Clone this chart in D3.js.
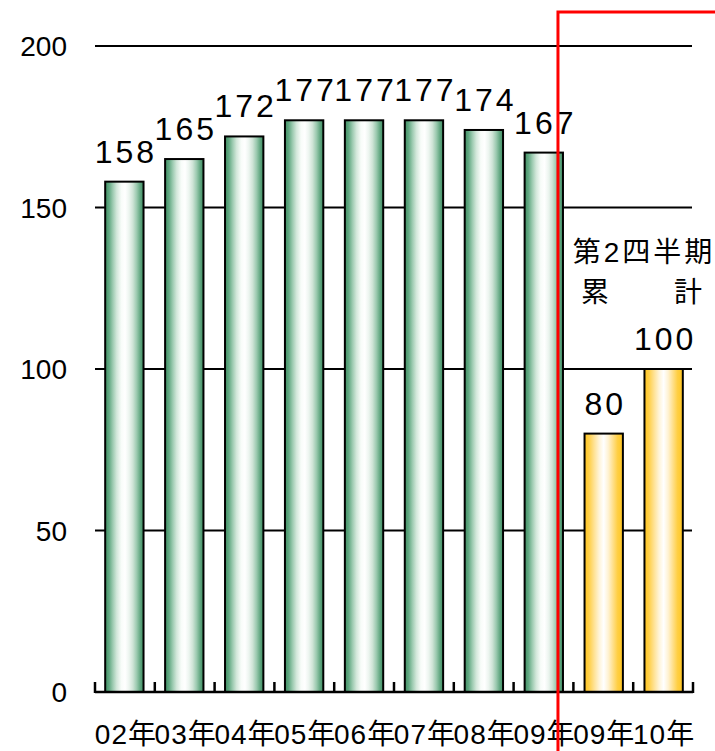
<!DOCTYPE html>
<html><head><meta charset="utf-8">
<script src="https://cdn.jsdelivr.net/npm/d3@7"></script>
<style>
html,body{margin:0;padding:0;background:#fff;}
svg{display:block;font-family:"Liberation Sans","Noto Sans CJK JP",sans-serif;}
</style></head>
<body><svg id="chart" width="715" height="751"></svg>
<script>
const categories = ["02年","03年","04年","05年","06年","07年","08年","09年","09年","10年"];
const values = [158,165,172,177,177,177,174,167,80,100];
const seriesType = ["annual","annual","annual","annual","annual","annual","annual","annual","q2","q2"];
const yTicks = [0,50,100,150,200];
const noteLines = ["第2四半期","累　　計"];

const svg = d3.select("#chart");
const pLeft = 95, pRight = 693, pTop = 46, pBottom = 692;

const x = d3.scaleBand().domain(d3.range(categories.length)).range([pLeft, pRight]).paddingInner(0.36).paddingOuter(0.17);
const xb = d3.scaleBand().domain(d3.range(categories.length)).range([pLeft, pRight]);
const y = d3.scaleLinear().domain([0, 200]).range([pBottom, pTop]);

const defs = svg.append("defs");
function grad(id, stops){
  const g = defs.append("linearGradient").attr("id", id).attr("x1","0").attr("x2","1").attr("y1","0").attr("y2","0");
  stops.forEach(s => g.append("stop").attr("offset", s[0]).attr("stop-color", s[1]));
}
grad("gGreen", [[0,"#3f8f63"],[0.1,"#62a882"],[0.2,"#9dcbb1"],[0.3,"#d2e7da"],[0.42,"#f8fcf9"],[0.52,"#ffffff"],[0.62,"#edf5f0"],[0.72,"#cfe4d7"],[0.82,"#9ccab0"],[0.92,"#5fa57f"],[1,"#3f8f63"]]);
grad("gYellow", [[0,"#ffc51f"],[0.12,"#ffd04a"],[0.25,"#ffe294"],[0.38,"#fff4d8"],[0.5,"#ffffff"],[0.62,"#fff2d2"],[0.74,"#ffe08c"],[0.86,"#ffcf45"],[1,"#ffc51f"]]);

// gridlines
svg.append("g").selectAll("line").data(yTicks.filter(d => d > 0)).join("line")
  .attr("x1", pLeft).attr("x2", pRight - 1)
  .attr("y1", d => y(d)).attr("y2", d => y(d))
  .attr("stroke", "#000").attr("stroke-width", 2);

// y tick labels
svg.append("g").selectAll("text").data(yTicks).join("text")
  .attr("x", 67).attr("y", d => y(d)).attr("dy", "0.36em")
  .attr("text-anchor", "end").attr("font-size", 28).attr("fill", "#000")
  .text(d => d);

// bars
svg.append("g").selectAll("rect").data(values).join("rect")
  .attr("x", (d,i) => x(i)).attr("width", x.bandwidth())
  .attr("y", d => y(d)).attr("height", d => y(0) - y(d))
  .attr("fill", (d,i) => seriesType[i] === "annual" ? "url(#gGreen)" : "url(#gYellow)")
  .attr("stroke", "#000").attr("stroke-width", 2);

// x axis
const xAxis = d3.axisBottom(xb).tickSize(0).tickFormat(() => "");
svg.append("g").attr("transform", `translate(0,${pBottom})`).call(xAxis)
  .call(g => g.select(".domain").attr("stroke", "#000").attr("stroke-width", 2.5).attr("d", `M${pLeft},0H${pRight}`));
const bounds = d3.range(categories.length + 1).map(i => pLeft + i * xb.step());
svg.append("g").selectAll("line").data(bounds).join("line")
  .attr("x1", d => d).attr("x2", d => d).attr("y1", pBottom + 1).attr("y2", pBottom - 10)
  .attr("stroke", "#000").attr("stroke-width", 2.5);

// x labels
svg.append("g").selectAll("text").data(categories).join("text")
  .attr("x", (d,i) => xb(i) + xb.bandwidth()/2 + 1).attr("y", 744)
  .attr("text-anchor", "middle").attr("font-size", 28).attr("letter-spacing", 1).attr("fill", "#000")
  .text(d => d);

// value labels
svg.append("g").selectAll("text").data(values).join("text")
  .attr("x", (d,i) => x(i) + x.bandwidth()/2 + 1.5).attr("y", d => y(d) - 19)
  .attr("text-anchor", "middle").attr("font-size", 32).attr("letter-spacing", 3).attr("fill", "#000")
  .text(d => d);

// annotation
svg.append("text").attr("x", 644).attr("y", 262).attr("text-anchor", "middle")
  .attr("font-size", 28).attr("letter-spacing", 3).text(noteLines[0]);
svg.append("text").attr("x", 643).attr("y", 302).attr("text-anchor", "middle")
  .attr("font-size", 28).attr("letter-spacing", 3).text(noteLines[1]);

// red separator
const sepX = x(7) + x.bandwidth() - 5;
svg.append("path").attr("d", `M${sepX},751V12H715`).attr("fill", "none")
  .attr("stroke", "#ff0000").attr("stroke-width", 3);
</script></body></html>
